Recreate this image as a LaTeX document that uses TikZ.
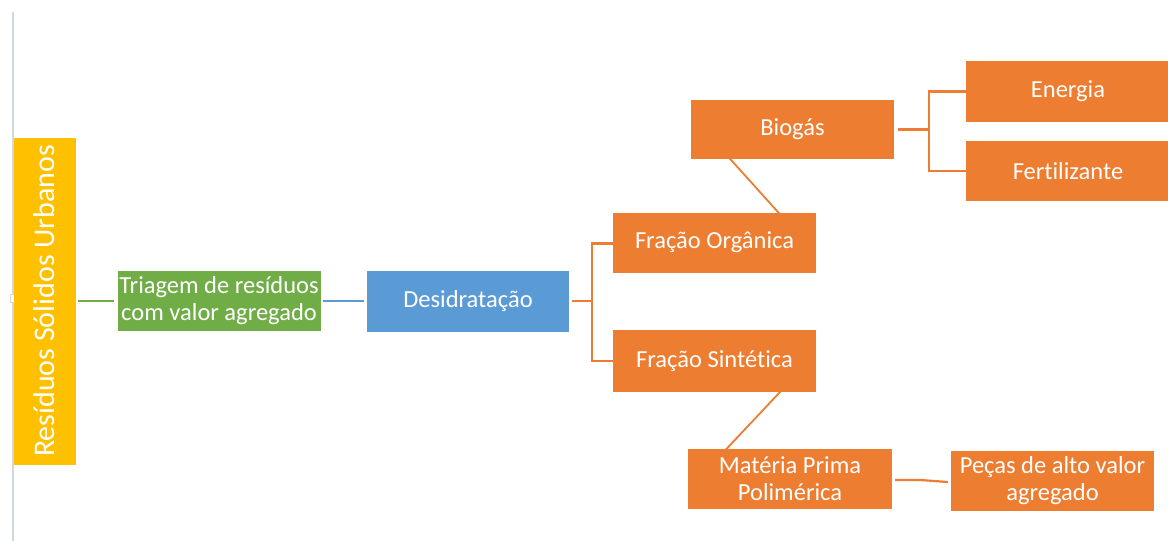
\documentclass[tikz,border=0pt]{standalone}
\usepackage{fontspec}
\setmainfont{Carlito}[Ligatures=NoCommon]
\definecolor{offorange}{HTML}{ED7D31}
\definecolor{offblue}{HTML}{5B9BD5}
\definecolor{offgreen}{HTML}{70AD47}
\definecolor{offyellow}{HTML}{FFC000}
\definecolor{guide}{HTML}{D3D7E2}
\begin{document}
\begin{tikzpicture}[x=1pt,y=-1pt,
  box/.style={rectangle, inner sep=0pt, text=white, align=center,
    font=\fontsize{24.5}{27}\selectfont},
  obox/.style={box, fill=offorange, minimum width=203pt, minimum height=60pt},
  oline/.style={draw=offorange, line width=2.2pt},
]
\useasboundingbox (0,0) rectangle (1168,541);
\fill[white] (0,0) rectangle (1168,541);
% guide line at left
\draw[guide, line width=1.2pt] (13,12) -- (13,541);
\node[rectangle, draw=guide, fill=white, minimum width=5pt, minimum height=8pt, inner sep=0pt] (handle) at (13,298) {};

\node[box, fill=offyellow, minimum width=62pt, minimum height=327pt,
  font=\fontsize{30}{32}\selectfont] (rsu) at (44.5,301) {\rotatebox{90}{Resíduos Sólidos Urbanos}};
\node[box, fill=offgreen, minimum width=203pt, minimum height=60pt] (tri) at (219,301) {Triagem de resíduos\\com valor agregado};
\node[box, fill=offblue, minimum width=202pt, minimum height=61pt] (des) at (468,301) {Desidratação};
\node[obox] (fo) at (714.5,242.5) {Fração Orgânica};
\node[obox, minimum height=62pt] (fs) at (714.5,361) {Fração Sintética};
\node[obox, minimum height=59pt] (bio) at (792.5,129.5) {Biogás};
\node[obox, minimum width=204pt, minimum height=61pt] (ene) at (1068,91.5) {Energia};
\node[obox, minimum width=204pt] (fer) at (1068,171) {Fertilizante};
\node[obox, minimum width=204pt] (mp) at (790,479) {Matéria Prima\\Polimérica};
\node[obox] (pec) at (1052.5,481) {Peças de alto valor\\agregado};

\draw[offgreen, line width=2.2pt] ([xshift=2pt]rsu.east) -- ([xshift=-3pt]tri.west);
\draw[offblue, line width=2.2pt] ([xshift=2pt]tri.east) -- ([xshift=-3pt]des.west);
\draw[oline] ([xshift=3pt]des.east) -- ++(20,0) coordinate (j1);
\draw[oline] ([yshift=-1pt]fo.west) -| (j1) |- (fs.west);
\draw[oline] ([xshift=4pt]bio.east) -- ++(31,0) coordinate (j2);
\draw[oline] (ene.west) -| (j2) |- (fer.west);
\draw[draw=offorange, line width=1.8pt] ([xshift=36pt,yshift=4pt]bio.south west) -- ([xshift=169pt,yshift=-4pt]fo.north west);
\draw[draw=offorange, line width=1.8pt] ([xshift=168pt,yshift=1pt]fs.south west) -- ([xshift=35pt,yshift=-4pt]mp.north west);
\draw[oline] ([xshift=3pt,yshift=-1pt]mp.east) -- ++(25,0) -- ([xshift=-3pt,yshift=-1pt]pec.west);
\end{tikzpicture}
\end{document}
